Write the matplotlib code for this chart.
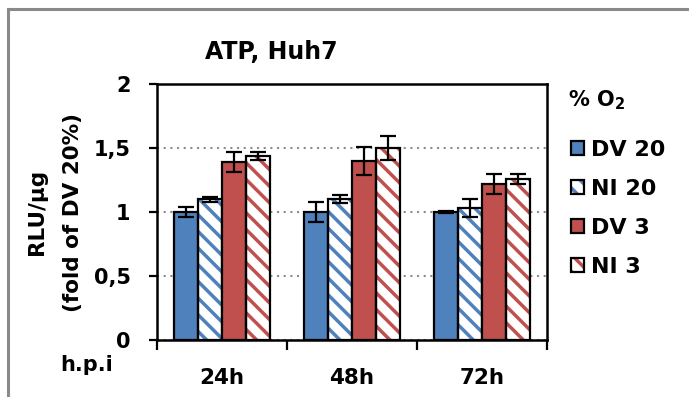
import matplotlib
matplotlib.use("Agg")
import matplotlib.pyplot as plt
import numpy as np
from matplotlib.patches import Patch
from matplotlib.lines import Line2D
from matplotlib.legend_handler import HandlerTuple

categories = ["24h", "48h", "72h"]
series = ["DV 20", "NI 20", "DV 3", "NI 3"]
dv20 = [1.00, 1.00, 1.00]
dv20_err = [0.04, 0.08, 0.01]
ni20 = [1.10, 1.10, 1.03]
ni20_err = [0.02, 0.03, 0.07]
dv3 = [1.39, 1.40, 1.22]
dv3_err = [0.08, 0.11, 0.08]
ni3 = [1.44, 1.50, 1.26]
ni3_err = [0.03, 0.09, 0.04]
yticks = [0, 0.5, 1, 1.5, 2]
ytick_labels = ["0", "0,5", "1", "1,5", "2"]

BLUE = "#4F81BD"
RED = "#C0504D"
HATCH = "\\\\"
plt.rcParams['font.family'] = ['DejaVu Sans']
plt.rcParams['font.weight'] = 'bold'
plt.rcParams['hatch.linewidth'] = 2.5

fig = plt.figure(figsize=(6.89, 3.97), dpi=100)
ax = fig.add_axes([157/689, 1-340/397, 390/689, 256/397])

x = np.arange(len(categories))
w = 0.185
data = [(dv20, dv20_err, BLUE, False), (ni20, ni20_err, BLUE, True),
        (dv3, dv3_err, RED, False), (ni3, ni3_err, RED, True)]
handles = []
for i, (vals, errs, col, hatched) in enumerate(data):
    pos = x + (i - 1.5) * w
    if hatched:
        ax.bar(pos, vals, w, facecolor="white", edgecolor=col, hatch=HATCH, linewidth=0, zorder=2)
        ax.bar(pos, vals, w, facecolor="none", edgecolor="black", linewidth=1.6, zorder=3)
        h1 = Patch(facecolor="white", edgecolor=col, hatch=HATCH, linewidth=0)
        h2 = Patch(facecolor="none", edgecolor="black", linewidth=1.6)
        handles.append((h1, h2))
    else:
        ax.bar(pos, vals, w, facecolor=col, edgecolor="black", linewidth=1.6, zorder=3)
        handles.append(Patch(facecolor=col, edgecolor="black", linewidth=1.6))
    ax.errorbar(pos, vals, yerr=errs, fmt="none", ecolor="black", elinewidth=1.6,
                capsize=6, capthick=1.6, zorder=4)

ax.set_xlim(-0.5, 2.5)
ax.set_ylim(0, 2)
ax.set_yticks(yticks)
ax.set_yticklabels(ytick_labels, fontsize=15, fontweight='bold')
ax.tick_params(axis='y', direction='out', length=6, width=1.6, pad=13)
ax.set_xticks([-0.5, 0.5, 1.5, 2.5])
ax.set_xticklabels([])
ax.set_xticks(x, minor=True)
ax.set_xticklabels(categories, minor=True, fontsize=15.5, fontweight='bold')
ax.tick_params(axis='x', which='major', direction='out', length=7, width=1.6)
ax.tick_params(axis='x', which='minor', length=0, pad=20)
for s in ax.spines.values():
    s.set_linewidth(1.8)
ax.yaxis.grid(True, linestyle=(0, (1, 2.2)), color="#8c8c8c", linewidth=1.5, zorder=0)
ax.set_axisbelow(True)

ax.set_ylabel("RLU/µg\n(fold of DV 20%)", fontsize=15.5, fontweight='bold',
              linespacing=2.0)
ax.yaxis.set_label_coords(-0.19, 0.5)

fig.text(271/689, 1-52/397, "ATP, Huh7", fontsize=17, fontweight='bold',
         ha='center', va='center')
fig.text(60/689, 1-365/397, "h.p.i", fontsize=15, fontweight='bold',
         ha='left', va='center')

# legend title and entries
fig.text(568/689, 1-100/397, "% O$_2$", fontsize=15, fontweight='bold',
         ha='left', va='center')
leg = fig.legend(handles, series, loc='upper left', bbox_to_anchor=(571/689, 1-140/397),
                 frameon=False, fontsize=16,
                 handlelength=0.6, handleheight=0.6, handletextpad=0.3,
                 labelspacing=0.85, borderaxespad=0, borderpad=0,
                 handler_map={tuple: HandlerTuple(ndivide=1)})
for t in leg.get_texts():
    t.set_fontweight('bold')

# outer gray frame (left and top)
fig.add_artist(Line2D([8/689, 8/689], [0, 1-9/397], color="#8a8a8a", linewidth=2.2,
                      transform=fig.transFigure))
fig.add_artist(Line2D([8/689, 1], [1-9/397, 1-9/397], color="#8a8a8a", linewidth=2.2,
                      transform=fig.transFigure))

fig.savefig("out.png", dpi=100)
